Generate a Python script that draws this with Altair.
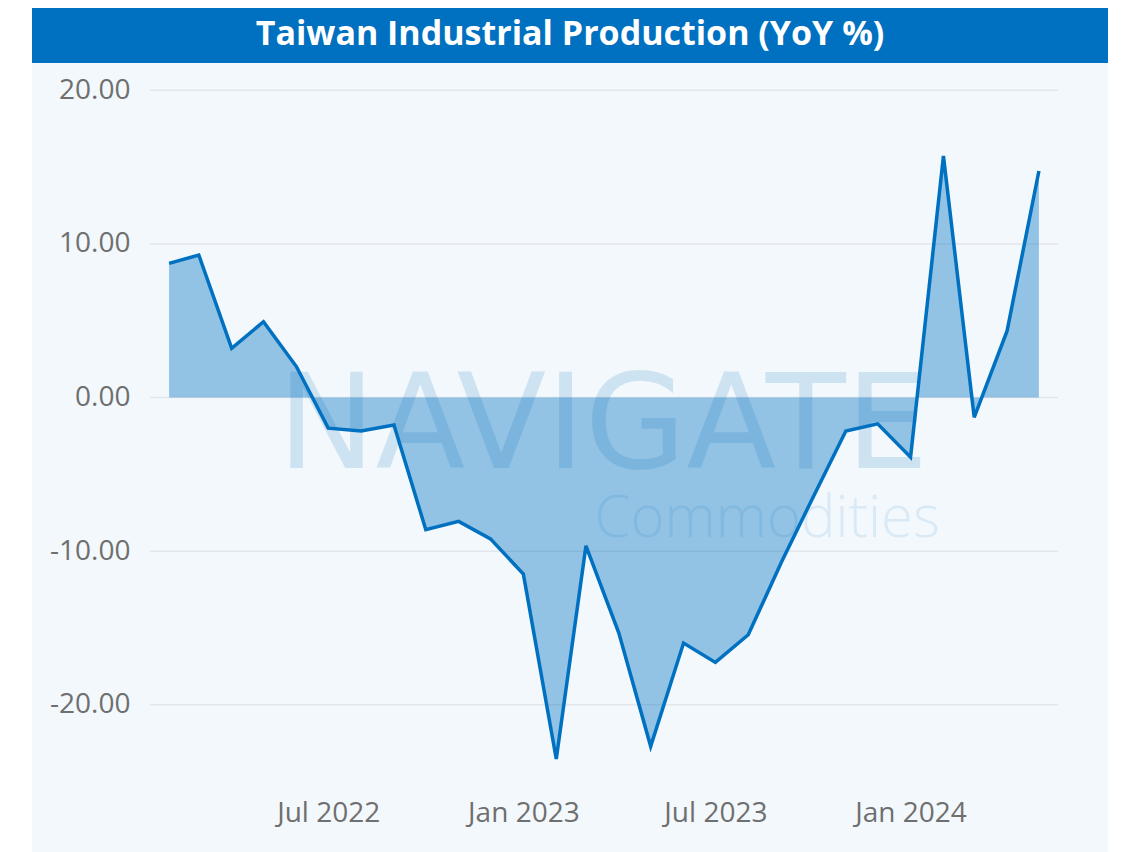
import altair as alt
import pandas as pd

# ---- data ----
months = [
    "2022-02-01", "2022-03-01", "2022-04-01", "2022-05-01", "2022-06-01", "2022-07-01",
    "2022-08-01", "2022-09-01", "2022-10-01", "2022-11-01", "2022-12-01", "2023-01-01",
    "2023-02-01", "2023-03-01", "2023-04-01", "2023-05-01", "2023-06-01", "2023-07-01",
    "2023-08-01", "2023-09-01", "2023-10-01", "2023-11-01", "2023-12-01", "2024-01-01",
    "2024-02-01", "2024-03-01", "2024-04-01", "2024-05-01",
]
yoy = [
    8.74, 9.28, 3.21, 4.94, 2.02, -1.99,
    -2.17, -1.78, -8.60, -8.06, -9.20, -11.49,
    -23.53, -9.65, -15.33, -22.70, -15.98, -17.24,
    -15.44, -10.75, -6.50, -2.17, -1.71, -3.88,
    15.73, -1.28, 4.34, 14.75,
]
y_ticks = [-20, -10, 0, 10, 20]
title_text = "Taiwan Industrial Production (YoY %)"
watermark_main = "NAVIGATE"
watermark_sub = "Commodities"

df = pd.DataFrame({"date": pd.to_datetime(months), "value": yoy})
grid_df = pd.DataFrame({"value": y_ticks})
one = alt.Data(values=[{"k": 1}])

BLUE = "#0070C0"
PANEL = "#F3F8FC"
LABEL = "#6F6F6F"
FONT = "Open Sans"

W, H = 908, 722

y_scale = alt.Scale(domain=[-26, 21], nice=False, zero=False)
y_axis = alt.Axis(
    values=y_ticks, grid=False, domain=False, ticks=False, tickSize=0,
    labelExpr="replace(format(datum.value, '.2f'), '\u2212', '-')",
    labelFontSize=28, labelColor=LABEL, labelFont=FONT, labelPadding=20,
    zindex=1,
)

x_enc = alt.X(
    "date:T",
    title=None,
    scale=alt.Scale(domain=[alt.DateTime(year=2022, month=1, date=14),
                            alt.DateTime(year=2024, month=5, date=19)]),
    axis=alt.Axis(
        values=[alt.DateTime(year=2022, month=7, date=1),
                alt.DateTime(year=2023, month=1, date=1),
                alt.DateTime(year=2023, month=7, date=1),
                alt.DateTime(year=2024, month=1, date=1)],
        format="%b %Y", grid=False, domain=False, ticks=False, tickSize=0,
        labelFontSize=28, labelColor=LABEL, labelFont=FONT, labelPadding=2,
        labelFlush=False, zindex=1,
    ),
)
y_enc = alt.Y("value:Q", title=None, scale=y_scale, axis=y_axis)

panel = alt.Chart(one).mark_rect(color=PANEL).encode(
    x=alt.value(-118), x2=alt.value(958), y=alt.value(-67), y2=alt.value(790)
)
bar = alt.Chart(one).mark_rect(color=BLUE).encode(
    x=alt.value(-118), x2=alt.value(958), y=alt.value(-67), y2=alt.value(-12)
)
title = alt.Chart(one).mark_text(
    text=title_text, color="white", font=FONT, fontWeight="bold", fontSize=34,
    align="center", baseline="middle",
).encode(x=alt.value(420), y=alt.value(-40))

grid = alt.Chart(grid_df).mark_rule(color="#E3E7EC", strokeWidth=1.5).encode(
    y=y_enc
)

area = alt.Chart(df).mark_area(color=BLUE, opacity=0.4, interpolate="linear").encode(
    x=x_enc, y=y_enc
)

wm1 = alt.Chart(one).mark_text(
    text=watermark_main, color=BLUE, opacity=0.15, font="DejaVu Sans",
    fontSize=131, align="center", baseline="alphabetic",
).encode(x=alt.value(453), y=alt.value(393))
wm2 = alt.Chart(one).mark_text(
    text=watermark_sub, color=BLUE, opacity=0.1, font=FONT, fontWeight=300,
    fontSize=58, align="right", baseline="alphabetic",
).encode(x=alt.value(790), y=alt.value(462))

line = alt.Chart(df).mark_line(color=BLUE, strokeWidth=3.5, interpolate="linear").encode(
    x=x_enc, y=y_enc
)

chart = alt.layer(panel, bar, title, grid, area, wm1, wm2, line).properties(
    width=W, height=H,
    autosize=alt.AutoSizeParams(type="none"),
    padding={"left": 142, "top": 67, "right": 50, "bottom": 55},
    background="white",
).configure_view(stroke=None)

chart.save("out.html", embed_options={"renderer": "svg", "actions": False})
